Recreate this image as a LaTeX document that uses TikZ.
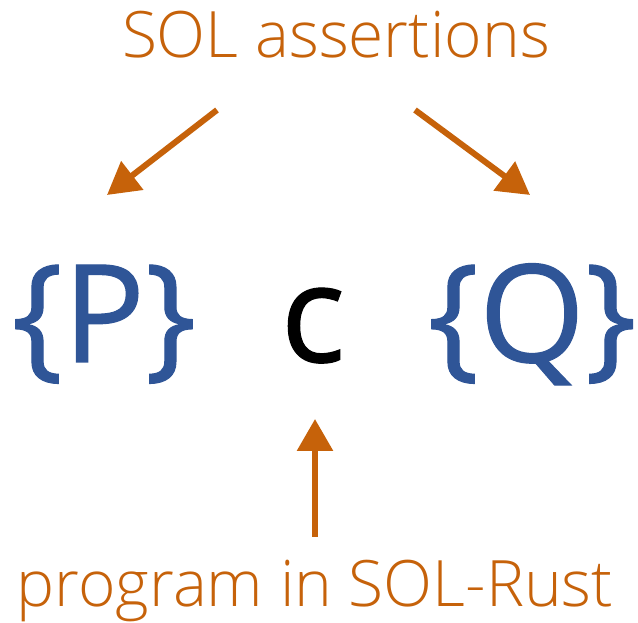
\documentclass[tikz,border=0pt]{standalone}
\usepackage{fontspec}
\setmainfont{Open Sans}
\newfontfamily\lightfont{Open Sans Light}
\newfontfamily\semifont[FakeBold=0.8]{Open Sans}
\usetikzlibrary{arrows.meta}
\definecolor{solorange}{RGB}{198,98,10}
\definecolor{solblue}{RGB}{47,85,151}
\tikzset{
  label text/.style={text=solorange, inner sep=0pt, anchor=base,
    font=\lightfont\fontsize{64}{70}\selectfont},
  triple/.style={inner sep=0pt, anchor=base,
    font=\semifont\fontsize{136}{160}\selectfont},
  pointer/.style={draw=solorange, line width=6pt,
    -{Triangle[length=32pt,width=35pt]}},
}
\begin{document}
\begin{tikzpicture}[x=1pt,y=1pt]
  \useasboundingbox (0,0) rectangle (638,623);
  % Hoare triple
  \node[triple, text=solblue] (pre) at (104,261) {\{P\}};
  \node[triple, text=black] (cmd) at (313,261) {c};
  \node[triple, text=solblue] (post) at (532,261) {\{Q\}};
  % captions
  \node[label text] (assert) at (336,565) {SOL assertions};
  \node[label text] (prog) at (315,16) {program in SOL-Rust};
  % arrow ends
  \coordinate (a1) at (217,513);
  \coordinate (t1) at (107,428);
  \coordinate (a2) at (415,513);
  \coordinate (t2) at (530,428);
  \coordinate (a3) at (315,86);
  \coordinate (t3) at (315,204);
  \draw[pointer] (a1) -- (t1);
  \draw[pointer] (a2) -- (t2);
  \draw[pointer] (a3) -- (t3);
\end{tikzpicture}
\end{document}
